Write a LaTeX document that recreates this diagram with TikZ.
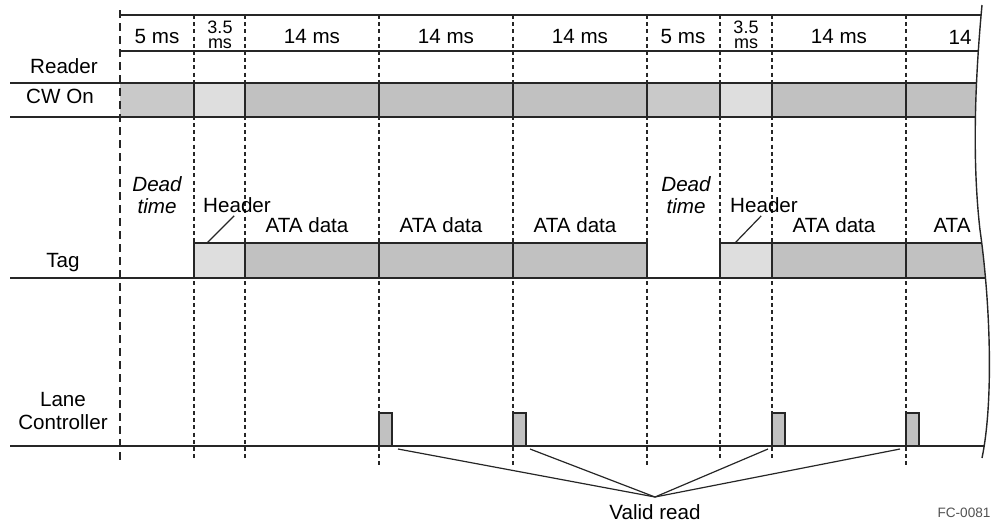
\documentclass[tikz,border=0pt]{standalone}
\usepackage{fontspec}
\setmainfont{Liberation Sans}
\usetikzlibrary{positioning}
\definecolor{cwgray}{gray}{0.79}
\definecolor{hdrgray}{gray}{0.87}
\definecolor{datagray}{gray}{0.755}
\definecolor{linegray}{gray}{0.15}

\begin{document}
\begin{tikzpicture}[
    x=0.5pt, y=-0.5pt,
    lbl/.style={
        font=\fontsize{10.3}{11.5}\selectfont,
        align=center,
        inner sep=0pt
    },
    smalllbl/.style={
        font=\fontsize{9}{7.5}\selectfont,
        align=center,
        inner sep=0pt
    },
    trace/.style={draw=linegray, line width=0.7pt},
    bandline/.style={draw=linegray, line width=1pt},
    slot/.style={draw=linegray, line width=0.6pt, dash pattern=on 2pt off 1.6pt},
    startslot/.style={draw=linegray, line width=0.8pt, dash pattern=on 4pt off 2.5pt},
    hdrbox/.style={fill=hdrgray, draw=linegray, line width=0.7pt},
    databox/.style={fill=datagray, draw=linegray, line width=0.7pt},
    pulse/.style={fill=datagray, draw=linegray, line width=0.7pt},
    pointer/.style={draw=linegray, line width=0.6pt}
]
\useasboundingbox (0,0) rectangle (991,527);

% Reader: CW On band
\fill[cwgray]   (120,83) rectangle (194,117);
\fill[hdrgray]  (194,83) rectangle (245,117);
\fill[datagray] (245,83) rectangle (647,117);
\fill[cwgray]   (647,83) rectangle (720,117);
\fill[hdrgray]  (720,83) rectangle (772,117);
\fill[datagray] (772,83) rectangle (1000,117);

% Tag: header and ATA data frames
\draw[hdrbox]  (194,243) rectangle (245,278);
\draw[databox] (245,243) rectangle (379,278);
\draw[databox] (379,243) rectangle (513,278);
\draw[databox] (513,243) rectangle (647,278);
\draw[hdrbox]  (720,243) rectangle (772,278);
\draw[databox] (772,243) rectangle (906,278);
\draw[databox] (906,243) rectangle (1000,278);

% Lane controller: valid read pulses
\draw[pulse] (379,413) rectangle (392,446);
\draw[pulse] (513,413) rectangle (526,446);
\draw[pulse] (772,413) rectangle (785,446);
\draw[pulse] (906,413) rectangle (919,446);

% Rows
\draw[trace] (120,15) -- (1000,15);
\draw[trace] (120,51) -- (1000,51);
\draw[bandline] (10,83) -- (1000,83);
\draw[bandline] (10,117) -- (1000,117);
\draw[trace] (10,278) -- (1000,278);
\draw[trace] (10,446) -- (1000,446);

% Slot boundaries in the band
\draw[bandline] (194,83) -- (194,117);
\draw[bandline] (245,83) -- (245,117);
\draw[bandline] (379,83) -- (379,117);
\draw[bandline] (513,83) -- (513,117);
\draw[bandline] (647,83) -- (647,117);
\draw[bandline] (720,83) -- (720,117);
\draw[bandline] (772,83) -- (772,117);
\draw[bandline] (906,83) -- (906,117);

% Slot boundaries, dashed
\draw[startslot] (120,10) -- (120,463);
\draw[slot] (194,15) -- (194,458);
\draw[slot] (245,15) -- (245,458);
\draw[slot] (379,15) -- (379,466);
\draw[slot] (513,15) -- (513,466);
\draw[slot] (647,15) -- (647,466);
\draw[slot] (720,15) -- (720,458);
\draw[slot] (772,15) -- (772,458);
\draw[slot] (906,15) -- (906,466);

% Break on the right
\fill[white] (982,5) .. controls (975,80) and (972,160) .. (980,230)
    .. controls (990,300) and (994,400) .. (982,458)
    -- (1010,458) -- (1010,5) -- cycle;
\draw[trace] (982,5) .. controls (975,80) and (972,160) .. (980,230)
    .. controls (990,300) and (994,400) .. (982,458);

% Slot durations
\node[lbl] (t1) at (157,37) {5 ms};
\node[smalllbl] (t2) at (220,35) {3.5\\ms};
\node[lbl] (t3) at (312,37) {14 ms};
\node[lbl] (t4) at (446,37) {14 ms};
\node[lbl] (t5) at (580,37) {14 ms};
\node[lbl] (t6) at (683,37) {5 ms};
\node[smalllbl] (t7) at (746,35) {3.5\\ms};
\node[lbl] (t8) at (839,37) {14 ms};
\node[lbl] (t9) at (960,37) {14};

% Row names
\node[lbl] (reader) at (64,66) {Reader};
\node[lbl] (cwon) at (60,96) {CW On};
\node[lbl] (tag) at (63,263) {Tag};
\node[lbl] (lane) at (63,411) {Lane\\Controller};

% Tag labels
\node[lbl, font=\fontsize{10.3}{11}\selectfont\itshape] (dead1) at (157,195) {Dead\\time};
\node[lbl, font=\fontsize{10.3}{11}\selectfont\itshape] (dead2) at (686,195) {Dead\\time};
\node[lbl] (hdr1) at (237,205) {Header};
\node[lbl] (hdr2) at (764,205) {Header};
\node[lbl] (ata1) at (307,225) {ATA data};
\node[lbl] (ata2) at (441,225) {ATA data};
\node[lbl] (ata3) at (575,225) {ATA data};
\node[lbl] (ata4) at (834,225) {ATA data};
\node[lbl] (ata5) at (952,225) {ATA};

\coordinate (hdr1foot) at (207,243);
\coordinate (hdr2foot) at (735,243);
\draw[pointer, shorten <=2pt] (hdr1.south) -- (hdr1foot);
\draw[pointer, shorten <=2pt] (hdr2.south) -- (hdr2foot);

% Valid read
\node[lbl] (valid) at (655,512) {Valid read};
\coordinate (vr) at (655,497);
\coordinate (v1) at (398,449);
\coordinate (v2) at (530,449);
\coordinate (v3) at (768,449);
\coordinate (v4) at (900,449);
\draw[pointer] (v1) -- (vr);
\draw[pointer] (v2) -- (vr);
\draw[pointer] (v3) -- (vr);
\draw[pointer] (v4) -- (vr);

\node[lbl, font=\fontsize{6.8}{8}\selectfont, text=linegray!80] (fc) at (964,513) {FC-0081};

\end{tikzpicture}
\end{document}
